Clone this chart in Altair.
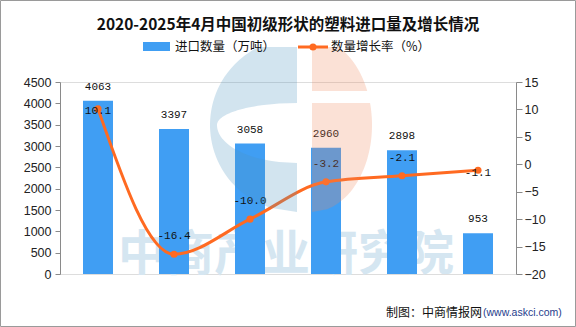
import altair as alt
import pandas as pd
import numpy as np

# ---------------- data ----------------
categories = ["2020年", "2021年", "2022年", "2023年", "2024年", "2025年1-4月"]
volumes = [4063, 3397, 3058, 2960, 2898, 953]
growth = [10.1, -16.4, -10.0, -3.2, -2.1, -1.1]
left_ticks = [0, 500, 1000, 1500, 2000, 2500, 3000, 3500, 4000, 4500]
right_ticks = [-20, -15, -10, -5, 0, 5, 10, 15]

title_text = "2020-2025年4月中国初级形状的塑料进口量及增长情况"
legend_bar = "进口数量（万吨）"
legend_line = "数量增长率（%）"
footer_main = "制图：中商情报网"
footer_url = "(www.askci.com)"
watermark = "中商产业研究院"

df = pd.DataFrame({"cat": categories, "vol": volumes, "g": growth})
df["g_label"] = [f"{v:.1f}" for v in growth]
df["v_label"] = [str(v) for v in volumes]
one = pd.DataFrame({"k": [0]})

BAR = "#409ef3"
LINE = "#ff6a21"
AX = "#8a8a8a"
NUMFONT = "Liberation Sans"
CJK = "Noto Sans CJK SC"
LBLFONT = "Liberation Mono"

x_enc = alt.X(
    "cat:N", sort=categories,
    scale=alt.Scale(paddingInner=0, paddingOuter=0),
    axis=alt.Axis(title=None, labelAngle=0, labelFont=CJK, labelFontSize=11.5,
                  labelColor="#111", domainColor=AX, tickColor=AX, tickSize=5,
                  bandPosition=0, labelPadding=5, grid=False),
)
x_plain = alt.X("cat:N", sort=categories, axis=None)

yl = alt.Y("vol:Q", scale=alt.Scale(domain=[0, 4500], nice=False),
           axis=alt.Axis(title=None, values=left_ticks, format="d", labelFont=NUMFONT,
                         labelFontSize=12.5, labelColor="#222", domainColor=AX,
                         tickColor=AX, tickSize=5, labelPadding=4, grid=False))
yr = alt.Y("g:Q", scale=alt.Scale(domain=[-20, 15], nice=False),
           axis=alt.Axis(title=None, orient="right", values=right_ticks, format="d",
                         labelFont=NUMFONT, labelFontSize=12.5, labelColor="#222",
                         domainColor=AX, tickColor=AX, tickSize=6, labelPadding=2,
                         grid=False))

base = alt.Chart(df)

# watermark text (behind bars)
wm = alt.Chart(one).mark_text(
    text=watermark, font=CJK, fontSize=48, fontWeight="bold", color="#d5e6f1",
    align="center", baseline="middle"
).encode(x=alt.value(226), y=alt.value(174))

bars = base.mark_bar(color=BAR, size=30).encode(x=x_enc, y=yl)
bar_lbl = base.mark_text(font=LBLFONT, fontSize=11, color="#111", dy=-14,
                         baseline="middle").encode(x=x_plain, y=yl, text="v_label:N")
left = alt.layer(bars, bar_lbl)

line = base.mark_line(color=LINE, strokeWidth=3, interpolate="monotone").encode(x=x_plain, y=yr)
pts = base.mark_point(color=LINE, filled=True, size=50, opacity=1).encode(x=x_plain, y=yr)
lbl_up = base.transform_filter(
    (alt.datum.cat != categories[0]) & (alt.datum.cat != categories[-1])
).mark_text(font=LBLFONT, fontSize=11, color="#111", dy=-18, baseline="middle").encode(
    x=x_plain, y=yr, text="g_label:N")
lbl_first = base.transform_filter(alt.datum.cat == categories[0]).mark_text(
    font=LBLFONT, fontSize=11, color="#111", dy=2, baseline="middle").encode(
    x=x_plain, y=yr, text="g_label:N")
lbl_last = base.transform_filter(alt.datum.cat == categories[-1]).mark_text(
    font=LBLFONT, fontSize=11, color="#111", dy=3, baseline="middle").encode(
    x=x_plain, y=yr, text="g_label:N")
right = alt.layer(line, pts, lbl_up, lbl_first, lbl_last)

# ---------------- logo overlay (decoration) ----------------
def ell(cx, rx, ry, y0, y1, n=40):
    ys = np.linspace(y0, y1, n)
    xs = cx + np.sign(rx) * abs(rx) * np.sqrt(np.clip(1 - (ys / ry) ** 2, 0, 1))
    return list(zip(xs, ys))

def to_path(pts_list, s=100.0):
    parts = []
    for i, (x, y) in enumerate(pts_list):
        parts.append(("M" if i == 0 else "L") + f"{x / s:.4f},{y / s:.4f}")
    return "".join(parts) + "Z"

R = 87
ytop = -78
blue = [(0, ytop)]
blue += ell(0, -R, R, ytop, R)          # left outer arc, top -> bottom
blue += [(0, R), (0, 38)]
blue += ell(0, -80, 38, 38, 0)[:-1]     # lower mouth edge
blue += ell(0, -80, 22, 0, -22)         # upper mouth edge
blue += [(0, ytop)]
peach_top = [(15, ytop)] + ell(15, 60, R, ytop, -34) + [(15, -34)]
peach_bot = [(15, -22)] + ell(15, 60, R, -22, R) + [(15, R)]

logo_blue = alt.Chart(one).mark_point(
    shape=to_path(blue), size=40000, filled=True, fill="#4c94c0", fillOpacity=0.25,
    strokeWidth=0, opacity=1
).encode(x=alt.value(237), y=alt.value(43))
logo_peach = alt.Chart(one).mark_point(
    shape=to_path(peach_top) + to_path(peach_bot), size=40000,
    filled=True, fill="#ef885c", fillOpacity=0.25, strokeWidth=0, opacity=1
).encode(x=alt.value(237), y=alt.value(43))

# ---------------- title, legend, footer, frame ----------------
title = alt.Chart(one).mark_text(
    text=title_text, font=CJK, fontSize=15.5, fontWeight="bold", color="#111",
    align="center", baseline="middle"
).encode(x=alt.value(228), y=alt.value(-57))

leg_rect = alt.Chart(one).mark_rect(color=BAR).encode(
    x=alt.value(83), x2=alt.value(110), y=alt.value(-40), y2=alt.value(-31))
leg_t1 = alt.Chart(one).mark_text(
    text=legend_bar, font=CJK, fontSize=12.5, color="#111", align="left",
    baseline="middle").encode(x=alt.value(115), y=alt.value(-35))
leg_rule = alt.Chart(one).mark_rule(color=LINE, strokeWidth=3).encode(
    x=alt.value(238), x2=alt.value(268), y=alt.value(-35))
leg_pt = alt.Chart(one).mark_point(color=LINE, filled=True, size=50, opacity=1).encode(
    x=alt.value(253), y=alt.value(-35))
leg_t2 = alt.Chart(one).mark_text(
    text=legend_line, font=CJK, fontSize=12.5, color="#111", align="left",
    baseline="middle").encode(x=alt.value(271), y=alt.value(-35))

foot1 = alt.Chart(one).mark_text(
    text=footer_main, font=CJK, fontSize=12, color="#111", align="right",
    baseline="middle").encode(x=alt.value(422), y=alt.value(231))
foot2 = alt.Chart(one).mark_text(
    text=footer_url, font=NUMFONT, fontSize=10.5, color="#1f3d8c", align="left",
    baseline="middle").encode(x=alt.value(423), y=alt.value(231))

frame = alt.Chart(one).mark_rect(fill=None, stroke="#9a9a9a", strokeWidth=1).encode(
    x=alt.value(-59.5), x2=alt.value(515.5), y=alt.value(-81.5), y2=alt.value(244.5))

main = alt.layer(left, right).resolve_scale(y="independent")

chart = alt.layer(
    wm, main, logo_blue, logo_peach, title, leg_rect, leg_t1, leg_rule, leg_pt,
    leg_t2, foot1, foot2, frame
).properties(
    width=456, height=192,
    autosize=alt.AutoSizeParams(type="none"),
    padding={"left": 60, "top": 82, "right": 60, "bottom": 53},
).configure_view(stroke=None).configure(background="white")

chart.save("out.html", embed_options={"renderer": "svg", "actions": False})
